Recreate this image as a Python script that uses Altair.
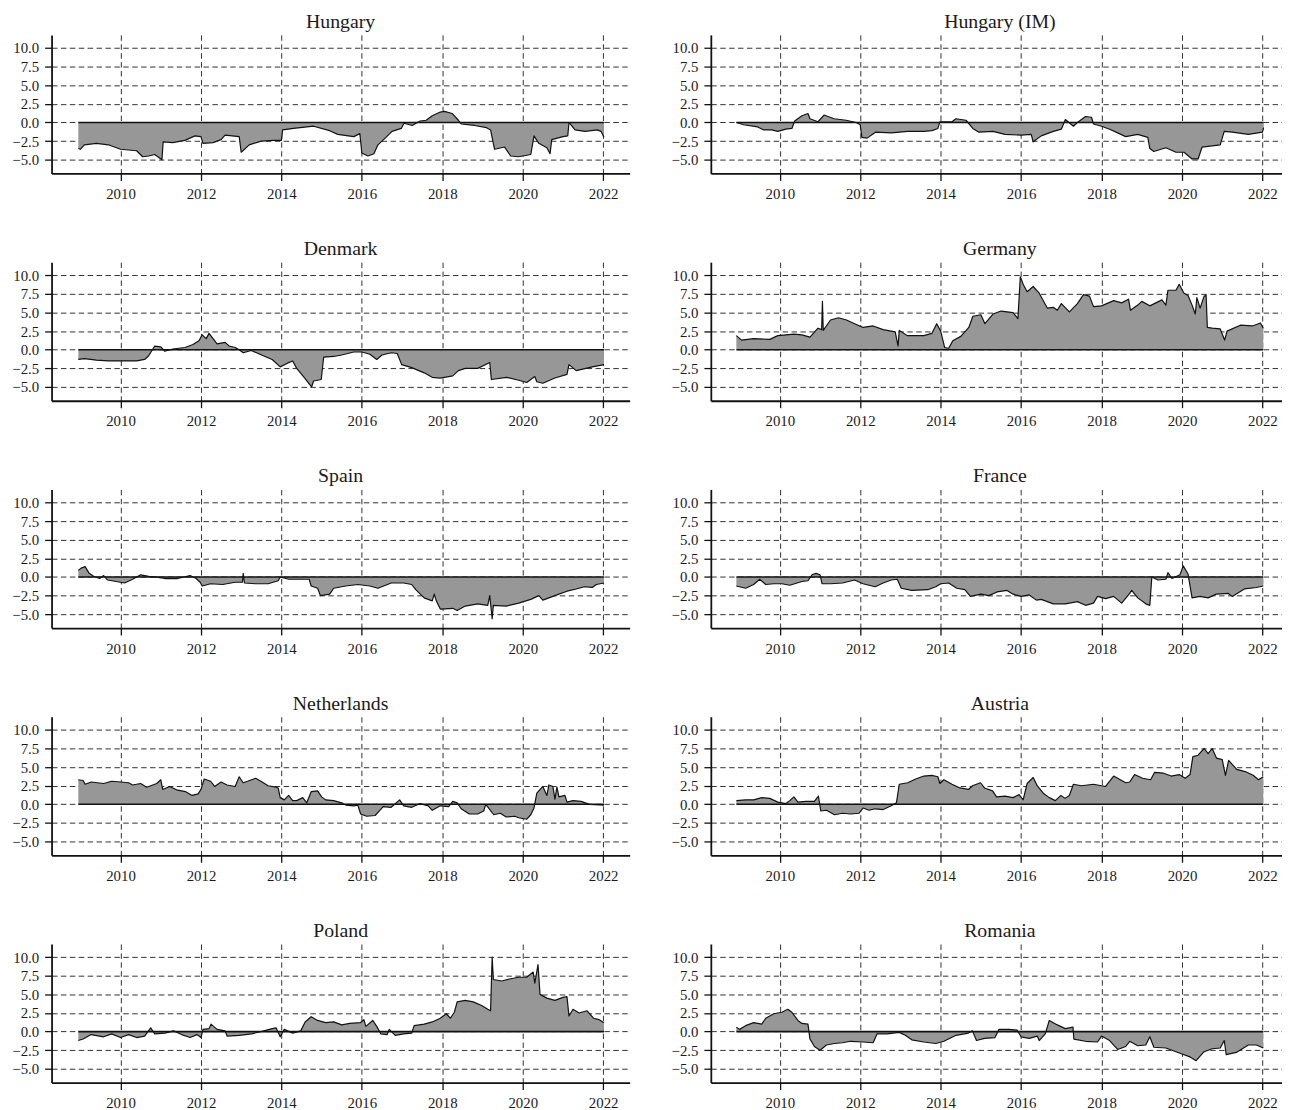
import altair as alt
import pandas as pd

FONT = "Liberation Serif"

# ---------------- data (decimal year, value) ----------------
hungary_t = [2008.95, 2009.0, 2009.1, 2009.4, 2009.7, 2010.0, 2010.4, 2010.55, 2010.7, 2010.85, 2011.03, 2011.06,
             2011.3, 2011.6, 2011.85, 2012.0, 2012.05, 2012.3, 2012.5, 2012.6, 2012.95, 2013.0, 2013.2, 2013.5,
             2013.8, 2014.0, 2014.03, 2014.3, 2014.8, 2015.2, 2015.4, 2015.8, 2015.95, 2016.0, 2016.15, 2016.3,
             2016.4, 2016.6, 2016.75, 2016.98, 2017.05, 2017.25, 2017.45, 2017.6, 2017.75, 2017.95, 2018.05,
             2018.25, 2018.4, 2018.47, 2018.8, 2019.1, 2019.2, 2019.3, 2019.55, 2019.7, 2019.9, 2020.2, 2020.28,
             2020.4, 2020.6, 2020.68, 2020.72, 2021.0, 2021.12, 2021.15, 2021.3, 2021.55, 2021.85, 2021.95, 2022.02]
hungary_v = [-3.5, -3.6, -3.0, -2.8, -3.0, -3.6, -3.8, -4.6, -4.5, -4.3, -5.0, -2.6,
             -2.7, -2.4, -1.8, -1.9, -2.8, -2.7, -2.3, -1.7, -1.9, -4.0, -3.0, -2.5,
             -2.4, -2.4, -1.0, -0.8, -0.5, -1.1, -1.6, -1.9, -1.5, -4.1, -4.5, -4.2,
             -3.0, -2.0, -1.2, -0.8, -0.1, -0.4, 0.2, 0.3, 0.9, 1.4, 1.5,
             1.2, 0.3, -0.2, -0.4, -0.7, -1.0, -3.6, -3.3, -4.5, -4.6, -4.3, -1.8,
             -2.8, -3.4, -4.2, -2.3, -1.9, -1.8, 0.0, -1.0, -1.2, -1.0, -1.2, -2.0]

hungary_im_t = [2008.92, 2009.1, 2009.45, 2009.6, 2009.8, 2009.95, 2010.15, 2010.3, 2010.37, 2010.55, 2010.7,
                2010.75, 2010.95, 2011.1, 2011.35, 2011.65, 2011.9, 2012.0, 2012.04, 2012.17, 2012.38, 2012.77,
                2013.18, 2013.58, 2013.78, 2013.93, 2013.98, 2014.28, 2014.38, 2014.63, 2014.8, 2014.95, 2015.3,
                2015.6, 2016.0, 2016.25, 2016.3, 2016.5, 2016.8, 2017.0, 2017.1, 2017.3, 2017.4, 2017.6, 2017.75,
                2017.8, 2018.0, 2018.2, 2018.4, 2018.6, 2018.9, 2019.15, 2019.2, 2019.3, 2019.6, 2019.85, 2020.05,
                2020.25, 2020.4, 2020.5, 2020.95, 2021.05, 2021.25, 2021.65, 2022.0, 2022.03]
hungary_im_v = [0.0, -0.3, -0.6, -1.0, -1.0, -1.2, -0.9, -0.8, 0.2, 0.9, 1.2,
                0.5, 0.1, 1.0, 0.5, 0.3, 0.0, -0.3, -2.0, -2.1, -1.3, -1.4,
                -1.2, -1.2, -1.1, -0.8, 0.1, 0.1, 0.5, 0.3, -0.8, -1.3, -1.2,
                -1.6, -1.7, -1.6, -2.6, -1.8, -1.2, -0.9, 0.4, -0.5, 0.0, 0.8, 0.7,
                -0.2, -0.5, -0.9, -1.4, -1.9, -1.6, -2.0, -3.5, -3.9, -3.4, -4.0, -4.0,
                -4.9, -4.9, -3.3, -3.0, -1.2, -1.3, -1.6, -1.3, -0.7]

denmark_t = [2008.95, 2009.1, 2009.4, 2009.7, 2010.0, 2010.4, 2010.6, 2010.7, 2010.85, 2011.0, 2011.1, 2011.3,
             2011.6, 2011.8, 2011.95, 2012.03, 2012.13, 2012.2, 2012.3, 2012.4, 2012.6, 2012.7, 2012.85, 2012.95,
             2013.05, 2013.25, 2013.55, 2013.77, 2013.97, 2014.15, 2014.28, 2014.38, 2014.58, 2014.75, 2014.8,
             2014.99, 2015.05, 2015.3, 2015.5, 2015.8, 2016.0, 2016.2, 2016.37, 2016.5, 2016.73, 2016.88, 2016.99,
             2017.24, 2017.55, 2017.75, 2017.95, 2018.26, 2018.4, 2018.57, 2018.88, 2019.18, 2019.22, 2019.6,
             2019.9, 2020.1, 2020.3, 2020.35, 2020.5, 2020.8, 2021.1, 2021.15, 2021.33, 2021.73, 2022.02]
denmark_v = [-1.3, -1.2, -1.4, -1.5, -1.5, -1.5, -1.3, -0.8, 0.5, 0.4, -0.2, 0.1,
             0.3, 0.7, 1.2, 2.0, 1.5, 2.2, 1.5, 0.8, 1.0, 0.5, 0.3, 0.0,
             -0.4, -0.1, -0.8, -1.3, -2.3, -1.8, -1.5, -2.5, -3.8, -5.0, -4.2,
             -4.0, -1.0, -0.9, -0.7, -0.3, -0.3, -0.6, -1.3, -0.7, -0.4, -0.5, -2.0,
             -2.4, -3.1, -3.7, -3.8, -3.5, -2.8, -2.5, -2.5, -1.7, -4.0, -3.7,
             -4.1, -4.4, -3.6, -4.3, -4.5, -3.8, -3.3, -2.0, -2.8, -2.3, -2.0]

germany_t = [2008.92, 2009.05, 2009.35, 2009.75, 2009.95, 2010.35, 2010.55, 2010.75, 2010.85, 2010.95, 2011.04,
             2011.06, 2011.08, 2011.26, 2011.46, 2011.66, 2011.86, 2012.07, 2012.32, 2012.57, 2012.87, 2012.94,
             2012.97, 2013.17, 2013.58, 2013.78, 2013.9, 2014.0, 2014.1, 2014.2, 2014.3, 2014.5, 2014.7, 2014.8,
             2015.0, 2015.1, 2015.3, 2015.5, 2015.8, 2015.92, 2015.98, 2016.05, 2016.15, 2016.3, 2016.45, 2016.65,
             2016.8, 2016.9, 2017.0, 2017.2, 2017.4, 2017.55, 2017.7, 2017.8, 2018.0, 2018.3, 2018.5, 2018.67,
             2018.72, 2018.9, 2019.0, 2019.2, 2019.5, 2019.6, 2019.65, 2019.85, 2019.93, 2020.05, 2020.15, 2020.25,
             2020.33, 2020.37, 2020.45, 2020.55, 2020.6, 2020.63, 2020.75, 2020.95, 2021.06, 2021.12, 2021.45,
             2021.75, 2021.95, 2022.02]
germany_v = [1.9, 1.3, 1.5, 1.4, 1.9, 2.1, 2.0, 1.7, 2.3, 2.9, 2.7,
             6.5, 2.6, 4.0, 4.3, 4.0, 3.5, 3.0, 3.2, 2.7, 2.4, 0.5,
             2.6, 1.9, 1.9, 2.2, 3.5, 2.5, 0.3, 0.2, 1.2, 1.8, 3.0, 4.5,
             4.7, 3.5, 4.8, 5.2, 5.0, 4.2, 9.8, 8.8, 7.8, 8.5, 7.6, 5.6,
             5.7, 5.3, 6.2, 5.1, 6.2, 7.4, 7.2, 5.8, 5.9, 6.6, 6.3, 6.8,
             5.3, 6.0, 6.5, 5.9, 6.7, 6.0, 8.0, 8.0, 8.8, 7.6, 7.3, 6.0,
             4.8, 7.0, 5.6, 7.2, 7.3, 3.0, 2.9, 2.8, 1.3, 2.5, 3.3,
             3.2, 3.6, 2.9]

spain_t = [2008.95, 2009.02, 2009.12, 2009.22, 2009.33, 2009.48, 2009.58, 2009.68, 2009.89, 2010.1, 2010.3, 2010.5,
           2010.7, 2010.9, 2011.1, 2011.42, 2011.73, 2011.88, 2011.98, 2012.03, 2012.24, 2012.54, 2012.85, 2013.03,
           2013.05, 2013.08, 2013.36, 2013.67, 2013.92, 2013.97, 2014.18, 2014.48, 2014.69, 2014.74, 2014.9, 2014.97,
           2015.2, 2015.3, 2015.6, 2015.9, 2016.2, 2016.4, 2016.73, 2017.04, 2017.24, 2017.34, 2017.55, 2017.75,
           2017.8, 2017.85, 2017.95, 2018.26, 2018.37, 2018.57, 2018.88, 2019.13, 2019.18, 2019.24, 2019.27,
           2019.59, 2019.9, 2020.2, 2020.4, 2020.5, 2020.8, 2021.1, 2021.33, 2021.53, 2021.73, 2021.83, 2022.02]
spain_v = [0.9, 1.2, 1.4, 0.5, 0.1, -0.2, 0.2, -0.4, -0.6, -0.8, -0.3, 0.3,
           0.1, 0.0, -0.2, -0.2, 0.2, -0.2, -0.7, -1.2, -0.9, -1.0, -0.7, -0.7,
           0.5, -0.8, -0.9, -0.9, -0.5, 0.0, -0.3, -0.3, -0.3, -1.2, -1.5, -2.5,
           -2.3, -1.5, -1.2, -1.0, -1.2, -1.5, -0.8, -0.8, -1.0, -1.7, -2.8, -3.2,
           -2.3, -3.2, -4.3, -4.2, -4.5, -3.9, -3.6, -3.8, -2.5, -5.6, -3.8,
           -3.9, -3.5, -3.0, -2.5, -3.1, -2.5, -1.9, -1.6, -1.3, -1.4, -1.0, -0.8]

france_t = [2008.92, 2009.15, 2009.35, 2009.5, 2009.65, 2009.85, 2010.05, 2010.25, 2010.55, 2010.7, 2010.8, 2010.9,
            2011.0, 2011.05, 2011.26, 2011.56, 2011.86, 2012.07, 2012.37, 2012.57, 2012.77, 2012.92, 2013.02, 2013.28,
            2013.68, 2013.88, 2014.0, 2014.2, 2014.4, 2014.6, 2014.74, 2015.0, 2015.2, 2015.4, 2015.65, 2015.8,
            2016.0, 2016.2, 2016.38, 2016.5, 2016.8, 2017.1, 2017.4, 2017.6, 2017.8, 2017.9, 2018.1, 2018.3, 2018.5,
            2018.7, 2018.75, 2018.9, 2019.1, 2019.2, 2019.25, 2019.4, 2019.6, 2019.65, 2019.75, 2019.95, 2020.03,
            2020.15, 2020.25, 2020.45, 2020.65, 2020.85, 2021.15, 2021.25, 2021.55, 2021.85, 2022.02]
france_v = [-1.2, -1.5, -1.0, -0.3, -1.0, -0.9, -0.9, -1.1, -0.6, -0.5, 0.3, 0.5,
            0.3, -0.9, -0.9, -0.8, -0.4, -0.9, -1.3, -0.8, -0.4, -0.3, -1.5, -1.8,
            -1.7, -1.3, -0.9, -0.8, -1.5, -1.7, -2.6, -2.3, -2.5, -2.0, -1.8, -2.3,
            -2.6, -2.4, -3.1, -3.0, -3.6, -3.6, -3.3, -3.8, -3.5, -2.6, -2.9, -2.6, -3.5,
            -2.2, -1.8, -2.8, -3.6, -3.8, 0.0, -0.4, -0.3, 0.6, -0.2, 0.3, 1.5,
            0.4, -2.8, -2.6, -2.8, -2.3, -2.2, -2.6, -1.6, -1.4, -1.2]

netherlands_t = [2008.95, 2009.07, 2009.12, 2009.27, 2009.58, 2009.78, 2010.0, 2010.2, 2010.3, 2010.5, 2010.65,
                 2010.9, 2011.0, 2011.05, 2011.22, 2011.42, 2011.62, 2011.78, 2011.93, 2012.0, 2012.08, 2012.24,
                 2012.34, 2012.5, 2012.65, 2012.85, 2012.95, 2013.05, 2013.16, 2013.36, 2013.52, 2013.67, 2013.87,
                 2013.92, 2013.97, 2014.07, 2014.18, 2014.28, 2014.38, 2014.53, 2014.63, 2014.74, 2014.9, 2015.0,
                 2015.1, 2015.3, 2015.5, 2015.6, 2015.8, 2015.9, 2015.97, 2016.12, 2016.33, 2016.43, 2016.53,
                 2016.73, 2016.94, 2017.04, 2017.24, 2017.45, 2017.65, 2017.75, 2017.95, 2018.16, 2018.26, 2018.37,
                 2018.47, 2018.67, 2018.88, 2019.03, 2019.08, 2019.28, 2019.44, 2019.59, 2019.8, 2019.9, 2020.1,
                 2020.2, 2020.28, 2020.35, 2020.5, 2020.6, 2020.65, 2020.75, 2020.8, 2020.85, 2020.9, 2021.05,
                 2021.1, 2021.25, 2021.45, 2021.66, 2022.02]
netherlands_v = [3.3, 3.2, 2.7, 3.0, 2.8, 3.1, 3.0, 2.9, 2.6, 2.8, 2.3,
                 2.8, 3.3, 2.0, 2.4, 1.9, 1.7, 1.2, 1.4, 2.0, 3.4, 3.1,
                 2.4, 3.0, 2.6, 2.4, 3.7, 2.9, 3.1, 3.5, 3.0, 2.5, 2.3,
                 2.2, 0.9, 0.6, 1.2, 0.5, 0.5, 0.9, 0.2, 1.7, 1.8, 1.0,
                 0.6, 0.5, 0.2, -0.1, -0.2, -0.1, -1.3, -1.6, -1.5, -0.9, -0.3,
                 -0.4, 0.6, -0.2, -0.4, 0.1, -0.2, -0.8, -0.2, -0.3, 0.4, 0.2,
                 -0.6, -1.3, -1.3, -0.9, 0.0, -1.4, -1.2, -1.7, -1.6, -1.8, -2.0,
                 -1.4, -0.5, 1.5, 2.4, 1.2, 2.6, 2.4, 0.7, 2.3, 1.0, 1.2,
                 0.3, 0.5, 0.4, 0.0, -0.1]

austria_t = [2008.92, 2009.15, 2009.35, 2009.55, 2009.75, 2009.95, 2010.15, 2010.25, 2010.35, 2010.45, 2010.65,
             2010.86, 2010.96, 2011.02, 2011.16, 2011.36, 2011.56, 2011.76, 2011.97, 2012.07, 2012.22, 2012.37,
             2012.57, 2012.77, 2012.9, 2012.97, 2013.18, 2013.38, 2013.58, 2013.78, 2013.93, 2013.98, 2014.08,
             2014.28, 2014.48, 2014.69, 2014.79, 2014.99, 2015.09, 2015.29, 2015.39, 2015.6, 2015.8, 2015.95,
             2016.05, 2016.15, 2016.3, 2016.4, 2016.55, 2016.7, 2016.85, 2016.99, 2017.09, 2017.2, 2017.3, 2017.5,
             2017.8, 2018.1, 2018.3, 2018.4, 2018.6, 2018.7, 2018.82, 2019.02, 2019.22, 2019.32, 2019.53, 2019.73,
             2019.93, 2020.08, 2020.2, 2020.27, 2020.4, 2020.55, 2020.65, 2020.75, 2020.86, 2021.0, 2021.08,
             2021.16, 2021.36, 2021.57, 2021.77, 2021.9, 2022.02]
austria_v = [0.5, 0.6, 0.6, 0.9, 0.8, 0.3, 0.1, 0.5, 1.0, 0.3, 0.4,
             0.4, 1.1, -0.9, -0.8, -1.4, -1.2, -1.3, -1.2, -0.5, -0.8, -0.6,
             -0.7, -0.2, 0.2, 2.7, 2.9, 3.4, 3.8, 3.9, 3.7, 2.8, 3.3,
             2.7, 2.2, 2.0, 2.5, 2.9, 2.2, 1.8, 1.0, 1.1, 0.9, 1.3,
             0.6, 2.8, 3.6, 2.5, 1.5, 0.9, 0.5, 1.2, 0.8, 1.2, 2.7, 2.5,
             2.7, 2.4, 3.8, 3.5, 2.9, 3.0, 4.0, 3.5, 3.3, 4.3, 4.2, 3.8,
             4.0, 3.5, 4.0, 6.4, 6.6, 7.5, 6.8, 7.5, 6.2, 6.0, 3.9,
             5.9, 4.7, 4.4, 3.9, 3.3, 3.7]

poland_t = [2008.95, 2009.07, 2009.27, 2009.58, 2009.78, 2010.0, 2010.2, 2010.4, 2010.6, 2010.75, 2010.85, 2011.1,
            2011.32, 2011.52, 2011.73, 2011.9, 2012.0, 2012.05, 2012.2, 2012.25, 2012.4, 2012.6, 2012.65, 2012.95,
            2013.26, 2013.56, 2013.77, 2013.87, 2013.97, 2014.07, 2014.28, 2014.48, 2014.59, 2014.74, 2014.9,
            2015.1, 2015.3, 2015.5, 2015.7, 2015.96, 2016.05, 2016.1, 2016.27, 2016.37, 2016.47, 2016.63, 2016.68,
            2016.83, 2017.04, 2017.24, 2017.3, 2017.55, 2017.75, 2017.95, 2018.1, 2018.2, 2018.3, 2018.37, 2018.57,
            2018.77, 2018.98, 2019.13, 2019.2, 2019.24, 2019.27, 2019.48, 2019.7, 2019.9, 2020.1, 2020.26, 2020.3,
            2020.38, 2020.43, 2020.6, 2020.8, 2021.0, 2021.1, 2021.15, 2021.25, 2021.4, 2021.6, 2021.76, 2021.9,
            2022.02]
poland_v = [-1.2, -1.0, -0.4, -0.7, -0.3, -0.8, -0.4, -0.8, -0.6, 0.5, -0.3, -0.2,
            0.1, -0.4, -0.8, -0.4, -0.8, 0.3, 0.4, 1.0, 0.3, 0.1, -0.6, -0.5,
            -0.3, 0.1, 0.4, 0.5, -0.7, 0.3, -0.2, 0.1, 1.3, 2.0, 1.5,
            1.2, 1.3, 0.9, 1.1, 1.2, 1.6, 0.7, 1.5, 0.7, -0.3, -0.4, 0.3,
            -0.5, -0.3, -0.2, 0.8, 1.0, 1.3, 1.8, 2.4, 1.8, 2.6, 4.0, 4.2,
            4.0, 3.5, 3.0, 2.8, 10.0, 7.0, 6.8, 7.1, 7.3, 7.3, 8.0, 6.5,
            9.0, 5.0, 4.5, 4.2, 4.6, 4.7, 2.1, 3.0, 2.5, 2.8, 1.8, 1.6,
            1.2]

romania_t = [2008.92, 2009.0, 2009.15, 2009.35, 2009.55, 2009.65, 2009.85, 2010.05, 2010.2, 2010.3, 2010.45, 2010.55,
             2010.7, 2010.75, 2010.86, 2011.0, 2011.16, 2011.36, 2011.56, 2011.76, 2012.07, 2012.32, 2012.42,
             2012.67, 2012.97, 2013.12, 2013.28, 2013.58, 2013.88, 2014.08, 2014.38, 2014.69, 2014.79, 2014.89,
             2015.09, 2015.35, 2015.45, 2015.7, 2015.9, 2016.0, 2016.2, 2016.4, 2016.45, 2016.6, 2016.7, 2016.9,
             2017.1, 2017.29, 2017.31, 2017.6, 2017.9, 2018.0, 2018.2, 2018.4, 2018.6, 2018.7, 2018.9, 2019.1,
             2019.2, 2019.3, 2019.6, 2019.8, 2020.0, 2020.2, 2020.35, 2020.55, 2020.75, 2020.95, 2021.05, 2021.1,
             2021.35, 2021.65, 2021.85, 2022.02]
romania_v = [0.6, 0.3, 0.8, 1.2, 1.0, 1.8, 2.4, 2.6, 3.0, 2.6, 1.5, 1.1,
             1.0, -1.0, -2.0, -2.5, -1.8, -1.6, -1.5, -1.3, -1.4, -1.5, -0.3,
             -0.3, -0.1, -0.5, -1.1, -1.4, -1.6, -1.3, -0.5, -0.2, 0.1, -1.2,
             -0.9, -0.8, 0.3, 0.3, 0.2, -0.7, -0.9, -0.6, -1.2, -0.3, 1.5, 0.9,
             0.4, 0.6, -1.0, -1.3, -1.4, -0.6, -1.2, -2.4, -2.0, -1.3, -1.9, -1.8,
             -0.7, -2.1, -2.2, -2.6, -3.0, -3.4, -3.9, -2.7, -2.3, -2.2, -1.2, -3.1,
             -2.8, -1.8, -1.8, -2.2]

panels = [
    ("Hungary", hungary_t, hungary_v), ("Hungary (IM)", hungary_im_t, hungary_im_v),
    ("Denmark", denmark_t, denmark_v), ("Germany", germany_t, germany_v),
    ("Spain", spain_t, spain_v), ("France", france_t, france_v),
    ("Netherlands", netherlands_t, netherlands_v), ("Austria", austria_t, austria_v),
    ("Poland", poland_t, poland_v), ("Romania", romania_t, romania_v),
]

x_ticks = [2010, 2012, 2014, 2016, 2018, 2020, 2022]
y_ticks = [-5.0, -2.5, 0.0, 2.5, 5.0, 7.5, 10.0]
X_MIN = 2008.285
Y_DOMAIN = [-6.85, 11.77]
PX_PER_YEAR = 40.63
LEFT_W = 584
RIGHT_W = 577
PANEL_H = 140


def panel(name, t, v, width, center_w):
    df = pd.DataFrame({"t": t, "v": v})
    df["z"] = 0.0
    zero_df = pd.DataFrame({"t": [min(t), max(t)], "v": [0.0, 0.0]})
    title_df = pd.DataFrame({"name": [name]})
    x_max = X_MIN + width / PX_PER_YEAR
    xs = alt.Scale(domain=[X_MIN, x_max], nice=False, zero=False)
    ys = alt.Scale(domain=Y_DOMAIN, nice=False, zero=False)
    xa = alt.Axis(values=x_ticks, format="d", title=None, labelFlush=False, labelOverlap=False,
                  tickCount=len(x_ticks))
    ya = alt.Axis(values=y_ticks, format=".1f", title=None, labelFlush=False, labelOverlap=False,
                  tickCount=len(y_ticks))
    x = alt.X("t:Q", scale=xs, axis=xa)
    y = alt.Y("v:Q", scale=ys, axis=ya, stack=None)
    area = alt.Chart(df).mark_area(color="#979797", opacity=1, interpolate="linear").encode(
        x=x, y=y, y2=alt.Y2("z:Q"))
    line = alt.Chart(df).mark_line(color="#111111", strokeWidth=1.2, strokeJoin="round").encode(x=x, y=y)
    zero = alt.Chart(zero_df).mark_line(color="#111111", strokeWidth=1.6).encode(x=x, y=y)
    title = alt.Chart(title_df).mark_text(
        font=FONT, fontSize=20, color="#1a1a1a", baseline="alphabetic", align="center"
    ).encode(text="name:N", x=alt.value(center_w / 2), y=alt.value(-7.2))
    return alt.layer(area, line, zero, title).properties(width=width, height=PANEL_H)


rows = []
for i in range(0, len(panels), 2):
    a = panels[i]
    b = panels[i + 1]
    rows.append(alt.hconcat(panel(a[0], a[1], a[2], LEFT_W, LEFT_W),
                            panel(b[0], b[1], b[2], RIGHT_W, LEFT_W), spacing=41))

chart = alt.vconcat(*rows, spacing=36.6).properties(
    padding={"left": 3, "top": -2.5, "right": 0, "bottom": 0}
).configure_view(stroke=None).configure_axis(
    labelFont=FONT, labelFontSize=15, labelColor="#1a1a1a",
    domainColor="#111111", domainWidth=1.8,
    tickColor="#111111", tickWidth=1.3, tickSize=7, labelPadding=6,
    grid=True, gridColor="#1a1a1a", gridWidth=0.9, gridDash=[5.5, 3.5], gridOpacity=1,
).configure_axisX(labelPadding=6.5)

chart.save("out.html", embed_options={"renderer": "svg", "actions": False})
